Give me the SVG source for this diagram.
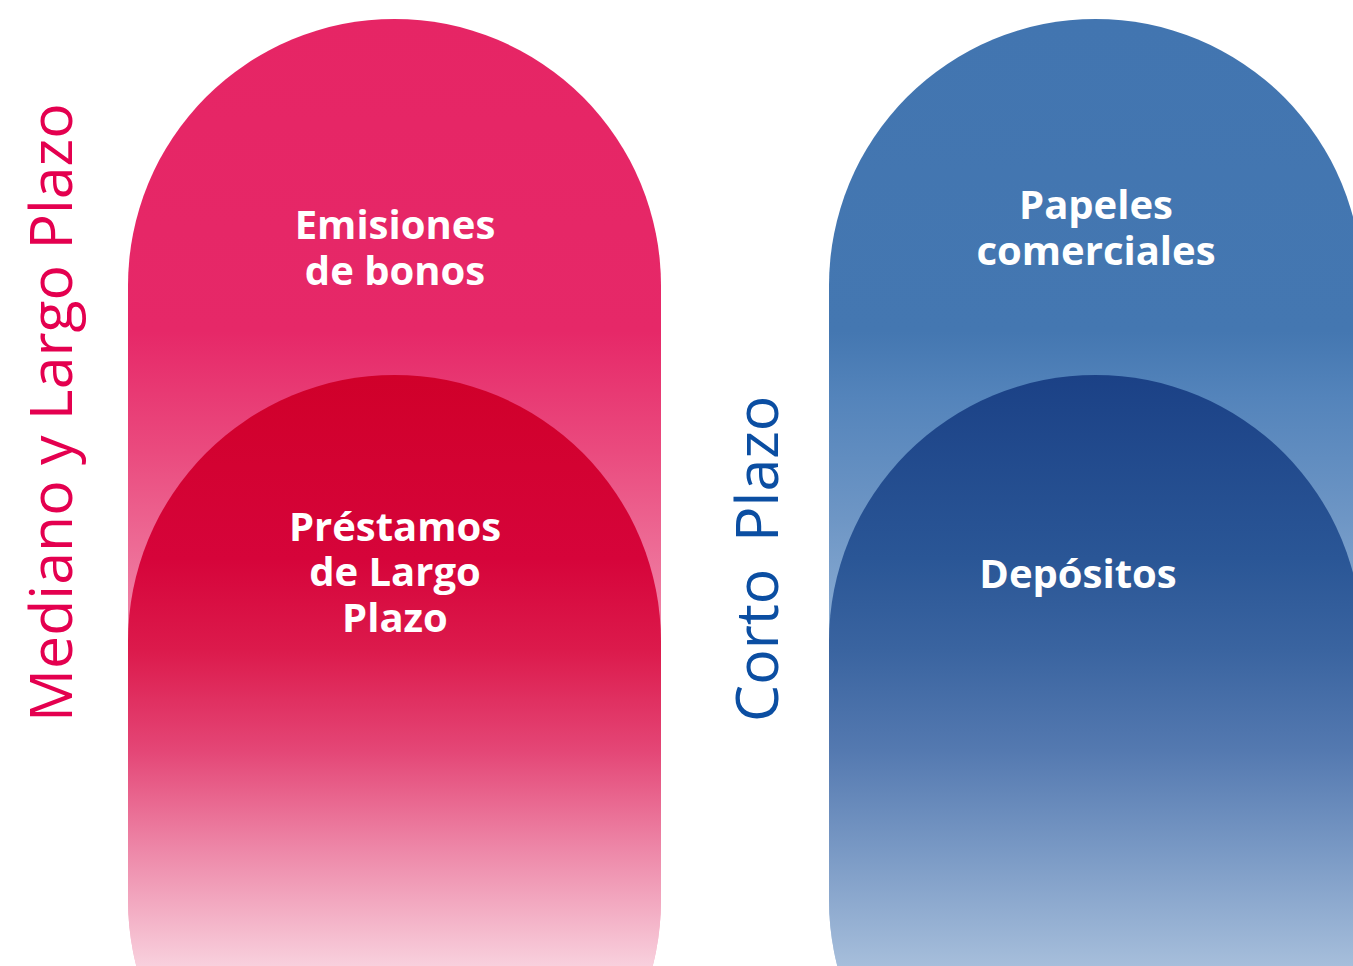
<svg xmlns="http://www.w3.org/2000/svg" width="1353" height="966" viewBox="0 0 1353 966">
<defs>
<style>
.lbl{font-family:"Open Sans","Noto Sans",sans-serif;font-weight:700;font-size:40px;fill:#ffffff;text-anchor:middle}
.side{font-family:"Open Sans","Noto Sans",sans-serif;font-weight:400;font-size:59px}
</style>
<linearGradient id="gPinkOuter" gradientUnits="userSpaceOnUse" x1="0" y1="19" x2="0" y2="966">
<stop offset="0" stop-color="#E62565"/>
<stop offset="0.33" stop-color="#E62868"/>
<stop offset="0.455" stop-color="#EA4A7E"/>
<stop offset="0.656" stop-color="#F08AAB"/>
<stop offset="1" stop-color="#F5B8CC"/>
</linearGradient>
<linearGradient id="gPinkInner" gradientUnits="userSpaceOnUse" x1="0" y1="375" x2="0" y2="966">
<stop offset="0" stop-color="#D0002A"/>
<stop offset="0.31" stop-color="#D6043A"/>
<stop offset="0.465" stop-color="#DC1A4C"/>
<stop offset="0.635" stop-color="#E44676"/>
<stop offset="0.8" stop-color="#ED86A7"/>
<stop offset="1" stop-color="#F8D0DD"/>
</linearGradient>
<linearGradient id="gBlueOuter" gradientUnits="userSpaceOnUse" x1="0" y1="19" x2="0" y2="966">
<stop offset="0" stop-color="#4275B0"/>
<stop offset="0.33" stop-color="#4477B1"/>
<stop offset="0.40" stop-color="#5484BB"/>
<stop offset="0.528" stop-color="#6E96C5"/>
<stop offset="0.656" stop-color="#8CAED4"/>
<stop offset="1" stop-color="#B0C6E0"/>
</linearGradient>
<linearGradient id="gBlueInner" gradientUnits="userSpaceOnUse" x1="0" y1="375" x2="0" y2="966">
<stop offset="0" stop-color="#1B4186"/>
<stop offset="0.31" stop-color="#2A5696"/>
<stop offset="0.465" stop-color="#3A64A0"/>
<stop offset="0.635" stop-color="#5479B0"/>
<stop offset="0.8" stop-color="#7898C4"/>
<stop offset="1" stop-color="#A6BEDB"/>
</linearGradient>
</defs>
<rect width="1353" height="966" fill="#ffffff"/>

<g id="label-mediano-largo">
<text class="side" fill="#E4004F" transform="translate(72,722) rotate(-90)">Mediano y Largo Plazo</text>
</g>

<g id="node-emisiones">
<path d="M128,285.5 A266.5,266.5 0 0 1 661,285.5 L661,900 A266.5,266.5 0 0 1 128,900 Z" fill="url(#gPinkOuter)"/>
<text class="lbl" x="395" y="239">Emisiones</text>
<text class="lbl" x="395" y="285">de bonos</text>
</g>

<g id="node-prestamos">
<path d="M128,641.5 A266.5,266.5 0 0 1 661,641.5 L661,900 A266.5,266.5 0 0 1 128,900 Z" fill="url(#gPinkInner)"/>
<text class="lbl" x="395" y="541">Préstamos</text>
<text class="lbl" x="395" y="586">de Largo</text>
<text class="lbl" x="395" y="632">Plazo</text>
</g>

<g id="label-corto">
<text class="side" fill="#0B4EA2" transform="translate(778,722) rotate(-90)">Corto<tspan x="180">Plazo</tspan></text>
</g>

<g id="node-papeles">
<path d="M829,285.5 A266.5,266.5 0 0 1 1362,285.5 L1362,900 A266.5,266.5 0 0 1 829,900 Z" fill="url(#gBlueOuter)"/>
<text class="lbl" x="1096" y="219">Papeles</text>
<text class="lbl" x="1096" y="265">comerciales</text>
</g>

<g id="node-depositos">
<path d="M829,641.5 A266.5,266.5 0 0 1 1362,641.5 L1362,900 A266.5,266.5 0 0 1 829,900 Z" fill="url(#gBlueInner)"/>
<text class="lbl" x="1078" y="588">Depósitos</text>
</g>

<g id="connectors"></g>
</svg>
